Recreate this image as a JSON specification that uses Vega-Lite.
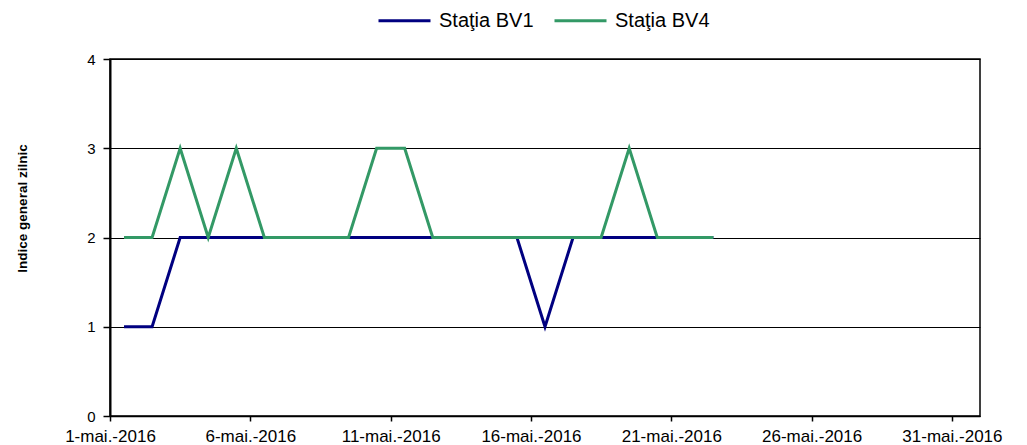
{
  "$schema": "https://vega.github.io/schema/vega-lite/v6.json",
  "width": 870,
  "height": 357,
  "autosize": {"type": "none"},
  "padding": {"left": 110, "top": 59, "right": 47, "bottom": 29},
  "background": "white",
  "config": {
    "font": "Liberation Sans",
    "view": {"stroke": "black", "strokeWidth": 1.5}
  },
  "data": {
    "values": [
      {"data": "2016-05-01", "statie": "Staţia BV1", "indice": 1},
      {"data": "2016-05-02", "statie": "Staţia BV1", "indice": 1},
      {"data": "2016-05-03", "statie": "Staţia BV1", "indice": 2},
      {"data": "2016-05-04", "statie": "Staţia BV1", "indice": 2},
      {"data": "2016-05-05", "statie": "Staţia BV1", "indice": 2},
      {"data": "2016-05-06", "statie": "Staţia BV1", "indice": 2},
      {"data": "2016-05-07", "statie": "Staţia BV1", "indice": 2},
      {"data": "2016-05-08", "statie": "Staţia BV1", "indice": 2},
      {"data": "2016-05-09", "statie": "Staţia BV1", "indice": 2},
      {"data": "2016-05-10", "statie": "Staţia BV1", "indice": 2},
      {"data": "2016-05-11", "statie": "Staţia BV1", "indice": 2},
      {"data": "2016-05-12", "statie": "Staţia BV1", "indice": 2},
      {"data": "2016-05-13", "statie": "Staţia BV1", "indice": 2},
      {"data": "2016-05-14", "statie": "Staţia BV1", "indice": 2},
      {"data": "2016-05-15", "statie": "Staţia BV1", "indice": 2},
      {"data": "2016-05-16", "statie": "Staţia BV1", "indice": 1},
      {"data": "2016-05-17", "statie": "Staţia BV1", "indice": 2},
      {"data": "2016-05-18", "statie": "Staţia BV1", "indice": 2},
      {"data": "2016-05-19", "statie": "Staţia BV1", "indice": 2},
      {"data": "2016-05-20", "statie": "Staţia BV1", "indice": 2},
      {"data": "2016-05-21", "statie": "Staţia BV1", "indice": 2},
      {"data": "2016-05-22", "statie": "Staţia BV1", "indice": 2},
      {"data": "2016-05-01", "statie": "Staţia BV4", "indice": 2},
      {"data": "2016-05-02", "statie": "Staţia BV4", "indice": 2},
      {"data": "2016-05-03", "statie": "Staţia BV4", "indice": 3},
      {"data": "2016-05-04", "statie": "Staţia BV4", "indice": 2},
      {"data": "2016-05-05", "statie": "Staţia BV4", "indice": 3},
      {"data": "2016-05-06", "statie": "Staţia BV4", "indice": 2},
      {"data": "2016-05-07", "statie": "Staţia BV4", "indice": 2},
      {"data": "2016-05-08", "statie": "Staţia BV4", "indice": 2},
      {"data": "2016-05-09", "statie": "Staţia BV4", "indice": 2},
      {"data": "2016-05-10", "statie": "Staţia BV4", "indice": 3},
      {"data": "2016-05-11", "statie": "Staţia BV4", "indice": 3},
      {"data": "2016-05-12", "statie": "Staţia BV4", "indice": 2},
      {"data": "2016-05-13", "statie": "Staţia BV4", "indice": 2},
      {"data": "2016-05-14", "statie": "Staţia BV4", "indice": 2},
      {"data": "2016-05-15", "statie": "Staţia BV4", "indice": 2},
      {"data": "2016-05-16", "statie": "Staţia BV4", "indice": 2},
      {"data": "2016-05-17", "statie": "Staţia BV4", "indice": 2},
      {"data": "2016-05-18", "statie": "Staţia BV4", "indice": 2},
      {"data": "2016-05-19", "statie": "Staţia BV4", "indice": 3},
      {"data": "2016-05-20", "statie": "Staţia BV4", "indice": 2},
      {"data": "2016-05-21", "statie": "Staţia BV4", "indice": 2},
      {"data": "2016-05-22", "statie": "Staţia BV4", "indice": 2}
    ]
  },
  "mark": {"type": "line", "strokeWidth": 3},
  "encoding": {
    "x": {
      "field": "data",
      "type": "temporal",
      "timeUnit": "utcyearmonthdate",
      "bandPosition": 0.5,
      "scale": {
        "type": "utc",
        "domain": [
          {"year": 2016, "month": 5, "date": 1, "utc": true},
          {"year": 2016, "month": 6, "date": 1, "utc": true}
        ]
      },
      "axis": {
        "title": null,
        "grid": false,
        "values": [
          {"year": 2016, "month": 5, "date": 1, "utc": true},
          {"year": 2016, "month": 5, "date": 6, "utc": true},
          {"year": 2016, "month": 5, "date": 11, "utc": true},
          {"year": 2016, "month": 5, "date": 16, "utc": true},
          {"year": 2016, "month": 5, "date": 21, "utc": true},
          {"year": 2016, "month": 5, "date": 26, "utc": true},
          {"year": 2016, "month": 5, "date": 31, "utc": true}
        ],
        "labelExpr": "utcFormat(datum.value, '%-d') + '-mai.-2016'",
        "labelFontSize": 17,
        "labelColor": "black",
        "labelPadding": 7,
        "labelFlush": false,
        "labelOverlap": false,
        "domainColor": "black",
        "domainWidth": 1.5,
        "tickColor": "black",
        "tickWidth": 1.5,
        "tickSize": 5
      }
    },
    "y": {
      "field": "indice",
      "type": "quantitative",
      "scale": {"domain": [0, 4], "nice": false, "zero": true},
      "axis": {
        "title": "Indice general zilnic",
        "titleFontSize": 13.5,
        "titleFontWeight": "bold",
        "titleColor": "black",
        "titleAngle": -90,
        "titleX": -88,
        "titleY": 149,
        "titleAlign": "center",
        "titleBaseline": "middle",
        "values": [0, 1, 2, 3, 4],
        "format": "d",
        "labelFontSize": 15,
        "labelColor": "black",
        "labelPadding": 8,
        "grid": true,
        "gridColor": "black",
        "gridWidth": 1.2,
        "gridOpacity": 1,
        "domainColor": "black",
        "domainWidth": 2,
        "tickColor": "black",
        "tickWidth": 1.5,
        "tickSize": 7
      }
    },
    "color": {
      "field": "statie",
      "type": "nominal",
      "scale": {
        "domain": ["Staţia BV1", "Staţia BV4"],
        "range": ["#000080", "#339966"]
      },
      "legend": {
        "title": null,
        "orient": "none",
        "direction": "horizontal",
        "legendX": 267,
        "legendY": -66,
        "symbolType": "stroke",
        "symbolSize": 2704,
        "symbolStrokeWidth": 3,
        "labelFontSize": 20,
        "labelColor": "black",
        "labelOffset": 7,
        "columnPadding": 14
      }
    }
  }
}
